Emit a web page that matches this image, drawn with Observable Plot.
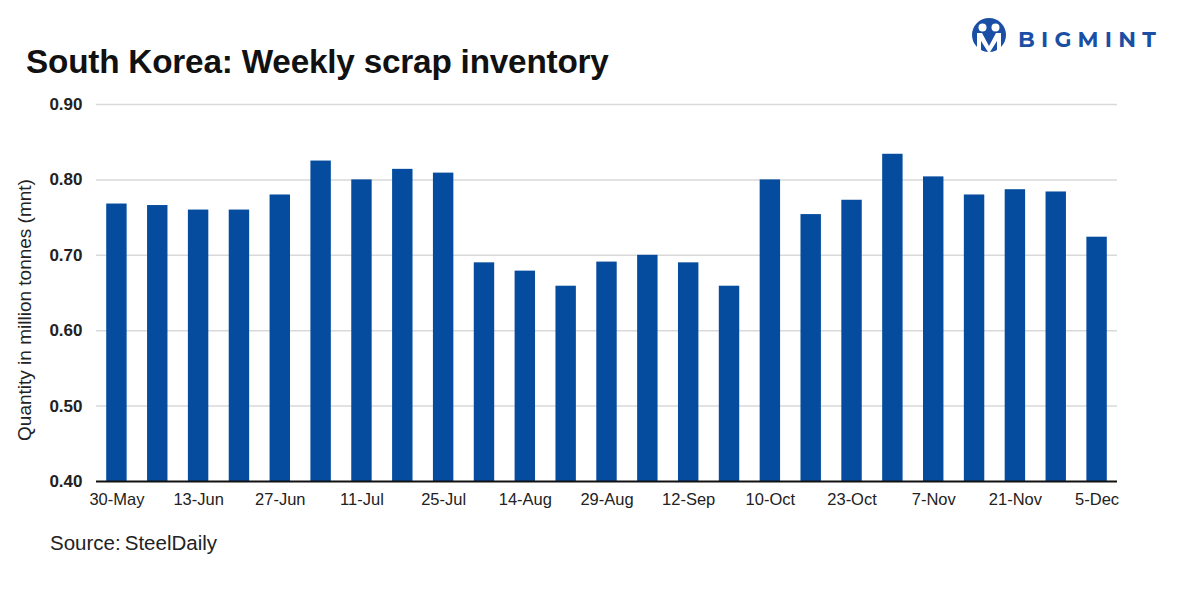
<!DOCTYPE html>
<html>
<head>
<meta charset="utf-8">
<script src="https://cdn.jsdelivr.net/npm/d3@7"></script>
<script src="https://cdn.jsdelivr.net/npm/@observablehq/plot@0.6"></script>
<style>
  html, body { margin: 0; padding: 0; background: #fff; }
  body { width: 1181px; height: 590px; position: relative; overflow: hidden; font-family: "Liberation Sans", Arial, sans-serif; }
  #title { position: absolute; left: 26px; top: 43px; font-size: 33.3px; font-weight: bold; color: #111; letter-spacing: -0.2px; line-height: 1.15; }
  #logo { position: absolute; left: 968px; top: 15px; }
  #chart { position: absolute; left: 0; top: 90px; }
  #source { position: absolute; left: 50px; top: 531px; font-size: 20.5px; color: #222; }
</style>
</head>
<body>
<div id="title">South Korea: Weekly scrap inventory</div>
<div id="logo">
  <svg width="200" height="44" viewBox="0 0 200 44">
    <circle cx="21" cy="20" r="17" fill="#1a4fa5"/>
    <circle cx="14.5" cy="12.5" r="4" fill="#fff"/>
    <circle cx="27.5" cy="12.5" r="4" fill="#fff"/>
    <path d="M9 18 L14 18 L21 31 L28 18 L33 18 L33 37 L29 37 L29 26 L22 37 L20 37 L13 26 L13 37 L9 37 Z" fill="#fff"/>
    <text x="50" y="32" font-family="Montserrat, 'DejaVu Sans', sans-serif" font-weight="bold" font-size="22" letter-spacing="6.2" fill="#1a4fa5">BIGMINT</text>
  </svg>
</div>
<div id="chart"></div>
<div id="source">Source:&#8201;SteelDaily</div>
<script>
const weeks = ["30-May","6-Jun","13-Jun","20-Jun","27-Jun","4-Jul","11-Jul","18-Jul","25-Jul","7-Aug",
               "14-Aug","22-Aug","29-Aug","5-Sep","12-Sep","26-Sep","10-Oct","17-Oct","23-Oct","31-Oct",
               "7-Nov","14-Nov","21-Nov","28-Nov","5-Dec"];
const inventory = [0.768,0.766,0.760,0.760,0.780,0.825,0.800,0.814,0.809,0.690,
                   0.679,0.659,0.691,0.700,0.690,0.659,0.800,0.754,0.773,0.834,
                   0.804,0.780,0.787,0.784,0.724];
const xTickLabels = ["30-May","13-Jun","27-Jun","11-Jul","25-Jul","14-Aug","29-Aug","12-Sep","10-Oct","23-Oct","7-Nov","21-Nov","5-Dec"];
const yTicks = [0.40,0.50,0.60,0.70,0.80,0.90];

const data = weeks.map((w, i) => ({week: w, value: inventory[i]}));
const yMin = yTicks[0], yMax = yTicks[yTicks.length - 1];

const chart = Plot.plot({
  width: 1181,
  height: 440,
  marginTop: 14,
  marginBottom: 49,
  marginLeft: 96,
  marginRight: 64,
  style: {fontFamily: "'Liberation Sans', Arial, sans-serif", fontSize: "16px", color: "#222", background: "transparent"},
  x: {domain: weeks, paddingInner: 0.5, paddingOuter: 0.25, align: 0.5, round: false},
  y: {domain: [yMin, yMax]},
  marks: [
    Plot.gridY(yTicks.slice(1), {stroke: "#d9d9d9", strokeOpacity: 1, strokeWidth: 1.5}),
    Plot.barY(data, {x: "week", y1: () => yMin, y2: "value", fill: "#054c9f"}),
    Plot.ruleY([yMin], {stroke: "#111", strokeWidth: 2}),
    Plot.axisY(yTicks, {tickSize: 0, tickPadding: 14, tickFormat: d3.format(".2f"), fontWeight: "bold", fontSize: 17,
      label: "Quantity in million tonnes (mnt)", labelAnchor: "center", labelArrow: "none", labelOffset: 79}),
    Plot.axisX(xTickLabels, {tickSize: 0, tickPadding: 12, label: null, fontSize: 16.5})
  ]
});
document.getElementById("chart").appendChild(chart);
// axis title: regular weight, larger, sitting a little lower as in the reference
chart.querySelectorAll("g[aria-label='y-axis label']").forEach(g => {
  const prev = g.getAttribute("transform") || "";
  g.setAttribute("transform", "translate(0,17) " + prev);
  g.querySelectorAll("text").forEach(t => { t.setAttribute("font-weight", "normal"); t.setAttribute("font-size", "19"); });
});
</script>
</body>
</html>
